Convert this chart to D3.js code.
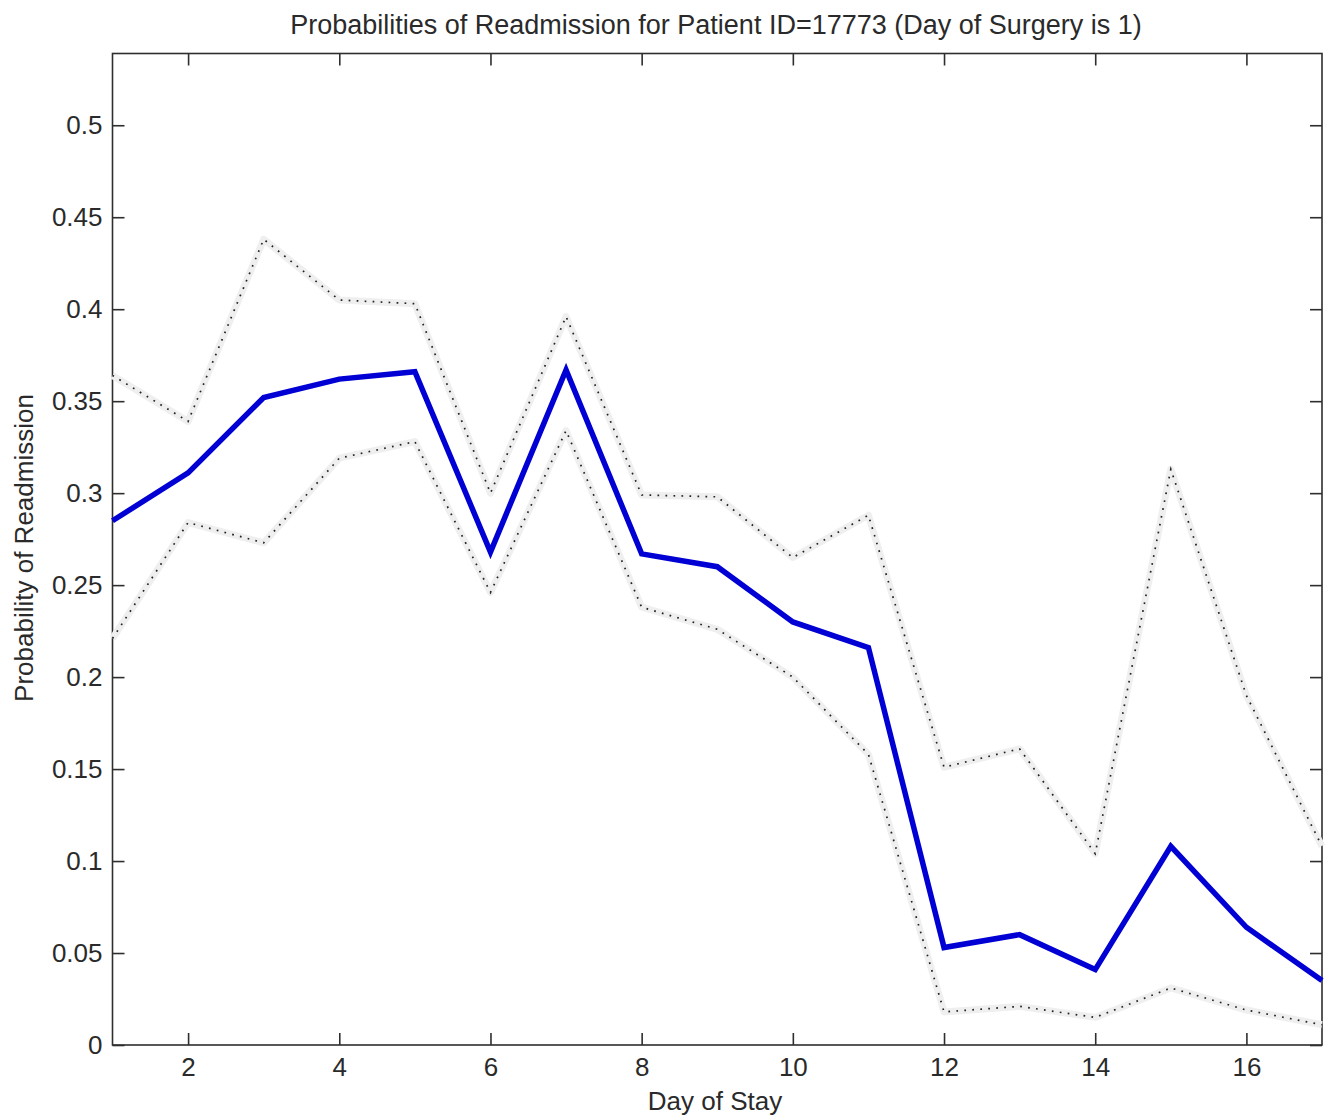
<!DOCTYPE html>
<html>
<head>
<meta charset="utf-8">
<script src="https://cdn.jsdelivr.net/npm/d3@7/dist/d3.min.js"></script>
<style>
  html, body { margin: 0; padding: 0; background: #fff; }
  svg { display: block; }
  text { font-family: "Liberation Sans", Arial, sans-serif; fill: #2a2a2a; }
</style>
</head>
<body>
<svg id="chart" width="1333" height="1119"></svg>
<script>
// ---- data ----
const days = [1, 2, 3, 4, 5, 6, 7, 8, 9, 10, 11, 12, 13, 14, 15, 16, 17];
const probMean  = [0.285, 0.311, 0.352, 0.362, 0.366, 0.268, 0.367, 0.267, 0.260, 0.230, 0.216, 0.053, 0.060, 0.041, 0.108, 0.064, 0.035];
const probUpper = [0.364, 0.339, 0.438, 0.405, 0.403, 0.300, 0.396, 0.299, 0.298, 0.265, 0.288, 0.151, 0.161, 0.104, 0.313, 0.190, 0.108];
const probLower = [0.221, 0.284, 0.273, 0.319, 0.328, 0.246, 0.334, 0.238, 0.226, 0.200, 0.158, 0.018, 0.021, 0.015, 0.031, 0.019, 0.011];
const xTicks = [2, 4, 6, 8, 10, 12, 14, 16];
const yTicks = [0, 0.05, 0.1, 0.15, 0.2, 0.25, 0.3, 0.35, 0.4, 0.45, 0.5];
const yTickLabels = ["0", "0.05", "0.1", "0.15", "0.2", "0.25", "0.3", "0.35", "0.4", "0.45", "0.5"];
const titleText = "Probabilities of Readmission for Patient ID=17773 (Day of Surgery is 1)";
const xLabel = "Day of Stay";
const yLabel = "Probability of Readmission";

// ---- layout ----
const svg = d3.select("#chart");
const pLeft = 112.5, pRight = 1322, pTop = 53.5, pBottom = 1045;
const x = d3.scaleLinear().domain([1, 17]).range([pLeft, pRight]);
const y = d3.scaleLinear().domain([0, 0.539]).range([pBottom, pTop]);
const axisColor = "#2e2e2e";
const tickLen = 12;

// frame
svg.append("rect")
  .attr("x", pLeft).attr("y", pTop)
  .attr("width", pRight - pLeft).attr("height", pBottom - pTop)
  .attr("fill", "none").attr("stroke", axisColor).attr("stroke-width", 1.6);

function styleAxis(g) {
  g.select(".domain").remove();
  g.selectAll(".tick line").attr("stroke", axisColor).attr("stroke-width", 1.6);
  g.selectAll(".tick text").attr("font-size", 26).attr("fill", "#2a2a2a")
    .attr("font-family", "'Liberation Sans', Arial, sans-serif");
}

// bottom axis
svg.append("g").attr("transform", `translate(0,${pBottom})`)
  .call(d3.axisBottom(x).tickValues(xTicks).tickSizeInner(-tickLen).tickSizeOuter(0).tickPadding(13).tickFormat(d3.format("d")))
  .call(styleAxis);
// top axis (ticks only)
svg.append("g").attr("transform", `translate(0,${pTop})`)
  .call(d3.axisTop(x).tickValues(xTicks).tickSizeInner(-tickLen).tickSizeOuter(0).tickFormat(""))
  .call(styleAxis);
// left axis
svg.append("g").attr("transform", `translate(${pLeft},0)`)
  .call(d3.axisLeft(y).tickValues(yTicks).tickSizeInner(-tickLen).tickSizeOuter(0).tickPadding(10)
    .tickFormat((d, i) => yTickLabels[i]))
  .call(styleAxis);
// right axis (ticks only)
svg.append("g").attr("transform", `translate(${pRight},0)`)
  .call(d3.axisRight(y).tickValues(yTicks).tickSizeInner(-tickLen).tickSizeOuter(0).tickFormat(""))
  .call(styleAxis);

// lines
const line = d3.line().x((d, i) => x(days[i])).y(d => y(d));
const plot = svg.append("g");

[probUpper, probLower].forEach(s => {
  plot.append("path").datum(s).attr("d", line)
    .attr("fill", "none").attr("stroke", "#efefef").attr("stroke-width", 7)
    .attr("stroke-linejoin", "round");
});
[probUpper, probLower].forEach(s => {
  plot.append("path").datum(s).attr("d", line)
    .attr("fill", "none").attr("stroke", "#222").attr("stroke-width", 1.7)
    .attr("stroke-dasharray", "1.7 6.3");
});
plot.append("path").datum(probMean).attr("d", line)
  .attr("fill", "none").attr("stroke", "#0000d4").attr("stroke-width", 5.5)
  .attr("stroke-linejoin", "miter");

// title & labels
svg.append("text").attr("x", 716).attr("y", 34).attr("text-anchor", "middle")
  .attr("font-size", 27).text(titleText);
svg.append("text").attr("x", 715).attr("y", 1110).attr("text-anchor", "middle")
  .attr("font-size", 26).text(xLabel);
svg.append("text").attr("transform", "translate(33,548) rotate(-90)").attr("text-anchor", "middle")
  .attr("font-size", 26).text(yLabel);
</script>
</body>
</html>
